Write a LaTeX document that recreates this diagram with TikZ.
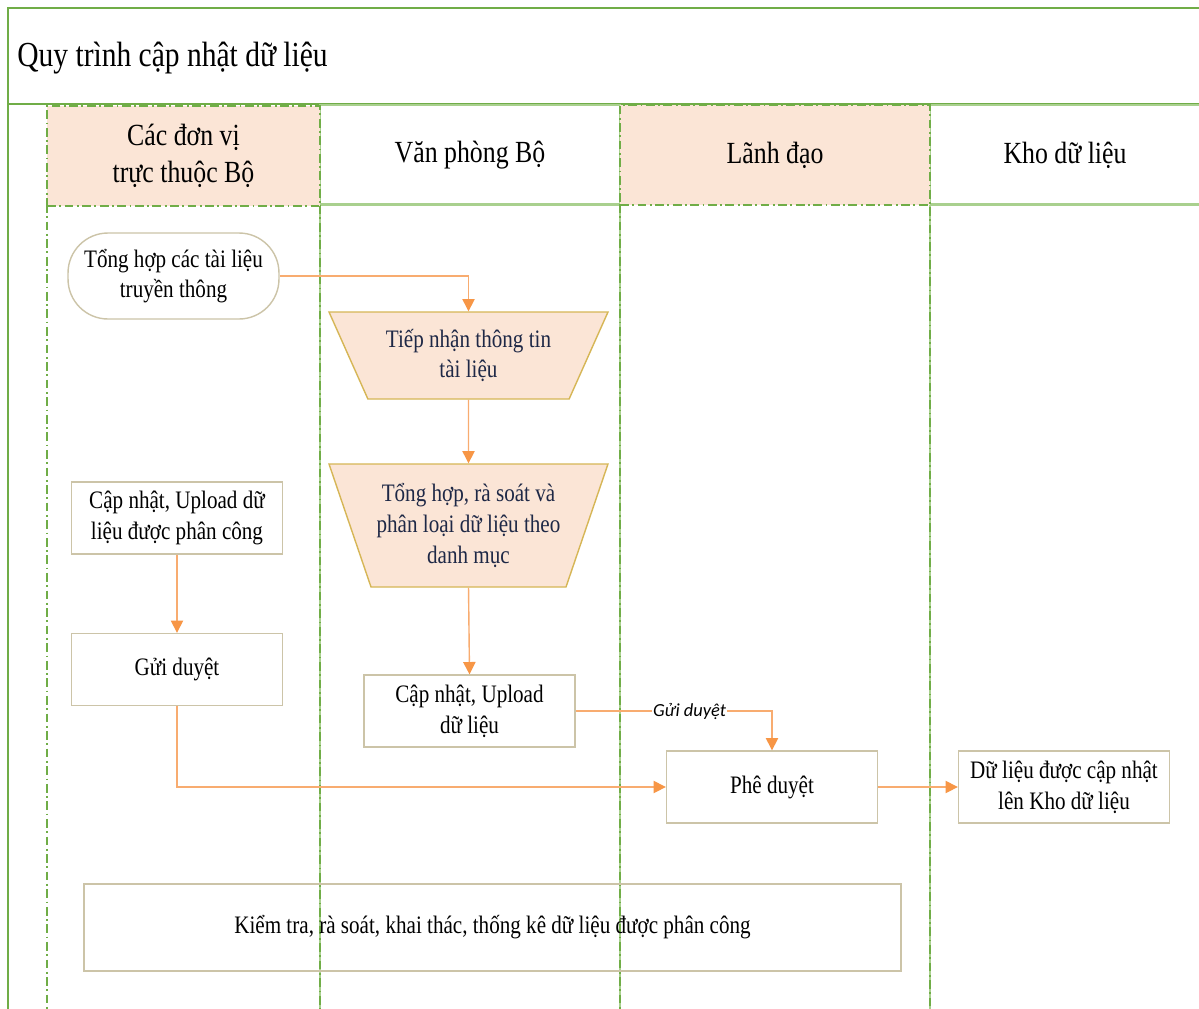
\documentclass[tikz,border=0pt]{standalone}
\usepackage{fontspec}
\setmainfont{Liberation Serif}[FakeStretch=0.84]
\newfontfamily\flowfont{Carlito}
\usepackage{tikz}
\usetikzlibrary{shapes, arrows.meta, positioning, calc}
\definecolor{lanegreen}{RGB}{112,173,71}
\definecolor{lanelight}{RGB}{169,208,142}
\definecolor{lanepeach}{RGB}{251,229,214}
\definecolor{boxtan}{RGB}{204,196,168}
\definecolor{trapgold}{RGB}{214,182,86}
\definecolor{flowline}{RGB}{248,172,112}
\definecolor{flowtip}{RGB}{247,150,70}
\definecolor{trapink}{RGB}{30,40,70}

\tikzset{
  frameline/.style={draw=lanegreen, line width=0.9pt},
  laneplain/.style={draw=lanelight, line width=0.8pt},
  lanedash/.style={draw=lanegreen, line width=1.1pt, dash pattern=on 5pt off 2pt on 1pt off 2pt},
  headtext/.style={align=center, inner sep=0pt, minimum height=2cm, font=\fontsize{17.5}{21}\selectfont},
  stepbox/.style={draw=boxtan, line width=0.8pt, align=center, inner sep=0pt, minimum width=4.22cm, minimum height=1.44cm, font=\fontsize{14.3}{17.5}\selectfont},
  terminal/.style={stepbox, rounded corners=0.8cm, minimum height=1.72cm},
  trapbox/.style={trapezium, trapezium stretches body, shape border rotate=180, draw=trapgold, line width=0.8pt, fill=lanepeach, text=trapink, align=center, inner sep=0pt, minimum width=5.58cm, font=\fontsize{14.3}{17.5}\selectfont},
  flow/.style={draw=flowline, line width=0.8pt, -{Triangle[length=7pt, width=7pt, color=flowtip]}},
  flowlabel/.style={fill=white, inner sep=0.5pt, font=\flowfont\itshape\fontsize{10.5}{12}\selectfont}
}

\begin{document}
\begin{tikzpicture}[x=0.02cm, y=-0.02cm]
  \clip (0,0) rectangle (1199,1008);
  \fill[white] (0,0) rectangle (1199,1008);

  % title band
  \draw[frameline] (8,1030) -- (8,8) -- (1230,8);
  \draw[frameline] (8,104) -- (1230,104);
  \node[anchor=west, inner sep=0pt, font=\fontsize{20}{24}\selectfont] (title) at (17,58) {Quy trình cập nhật dữ liệu};

  % lanes
  \draw[laneplain] (320,204) rectangle (620,1030);
  \draw[laneplain] (930,204) rectangle (1230,1030);
  \node[headtext, laneplain, minimum width=6cm] (hoffice) at (470,155) {Văn phòng Bộ};
  \node[headtext, laneplain, minimum width=5.4cm] (hstore) at (1065,155) {Kho dữ liệu};
  \draw[lanedash] (47,204) rectangle (320,1030);
  \draw[lanedash] (620,204) rectangle (930,1030);
  \node[headtext, lanedash, fill=lanepeach, minimum width=5.46cm] (hunits) at (183.5,156) {Các đơn vị\\trực thuộc Bộ};
  \node[headtext, lanedash, fill=lanepeach, minimum width=6.2cm] (hlead) at (775,155) {Lãnh đạo};

  % steps
  \node[terminal] (collect) at (173.5,276) {Tổng hợp các tài liệu\\truyền thông};
  \node[trapbox, minimum height=1.74cm, trapezium left angle=53.8, trapezium right angle=53.8] (receive) at (468.5,355.5) {Tiếp nhận thông tin\\tài liệu};
  \node[trapbox, minimum height=2.46cm, trapezium left angle=63.4, trapezium right angle=63.4] (sort) at (468.5,525.5) {Tổng hợp, rà soát và\\phân loại dữ liệu theo\\danh mục};
  \node[stepbox] (upload) at (177,518) {Cập nhật, Upload dữ\\liệu được phân công};
  \node[stepbox] (send) at (177,669.5) {Gửi duyệt};
  \node[stepbox] (update) at (469.5,711) {Cập nhật, Upload\\dữ liệu};
  \node[stepbox] (approve) at (772,787) {Phê duyệt};
  \node[stepbox] (stored) at (1064,787) {Dữ liệu được cập nhật\\lên Kho dữ liệu};
  \node[stepbox, minimum width=16.34cm, minimum height=1.74cm] (review) at (492.5,927.5) {Kiểm tra, rà soát, khai thác, thống kê dữ liệu được phân công};

  % connectors
  \draw[flow] (collect.east) -| (receive.north);
  \draw[flow] (receive.south) -- (sort.north);
  \draw[flow] (sort.south) -- (update.north);
  \draw[flow] (upload.south) -- (send.north);
  \draw[flow] (send.south) |- (approve.west);
  \draw[flow] (update.east) -| node[flowlabel, pos=0.29] {Gửi duyệt} (approve.north);
  \draw[flow] (approve.east) -- (stored.west);
\end{tikzpicture}
\end{document}
